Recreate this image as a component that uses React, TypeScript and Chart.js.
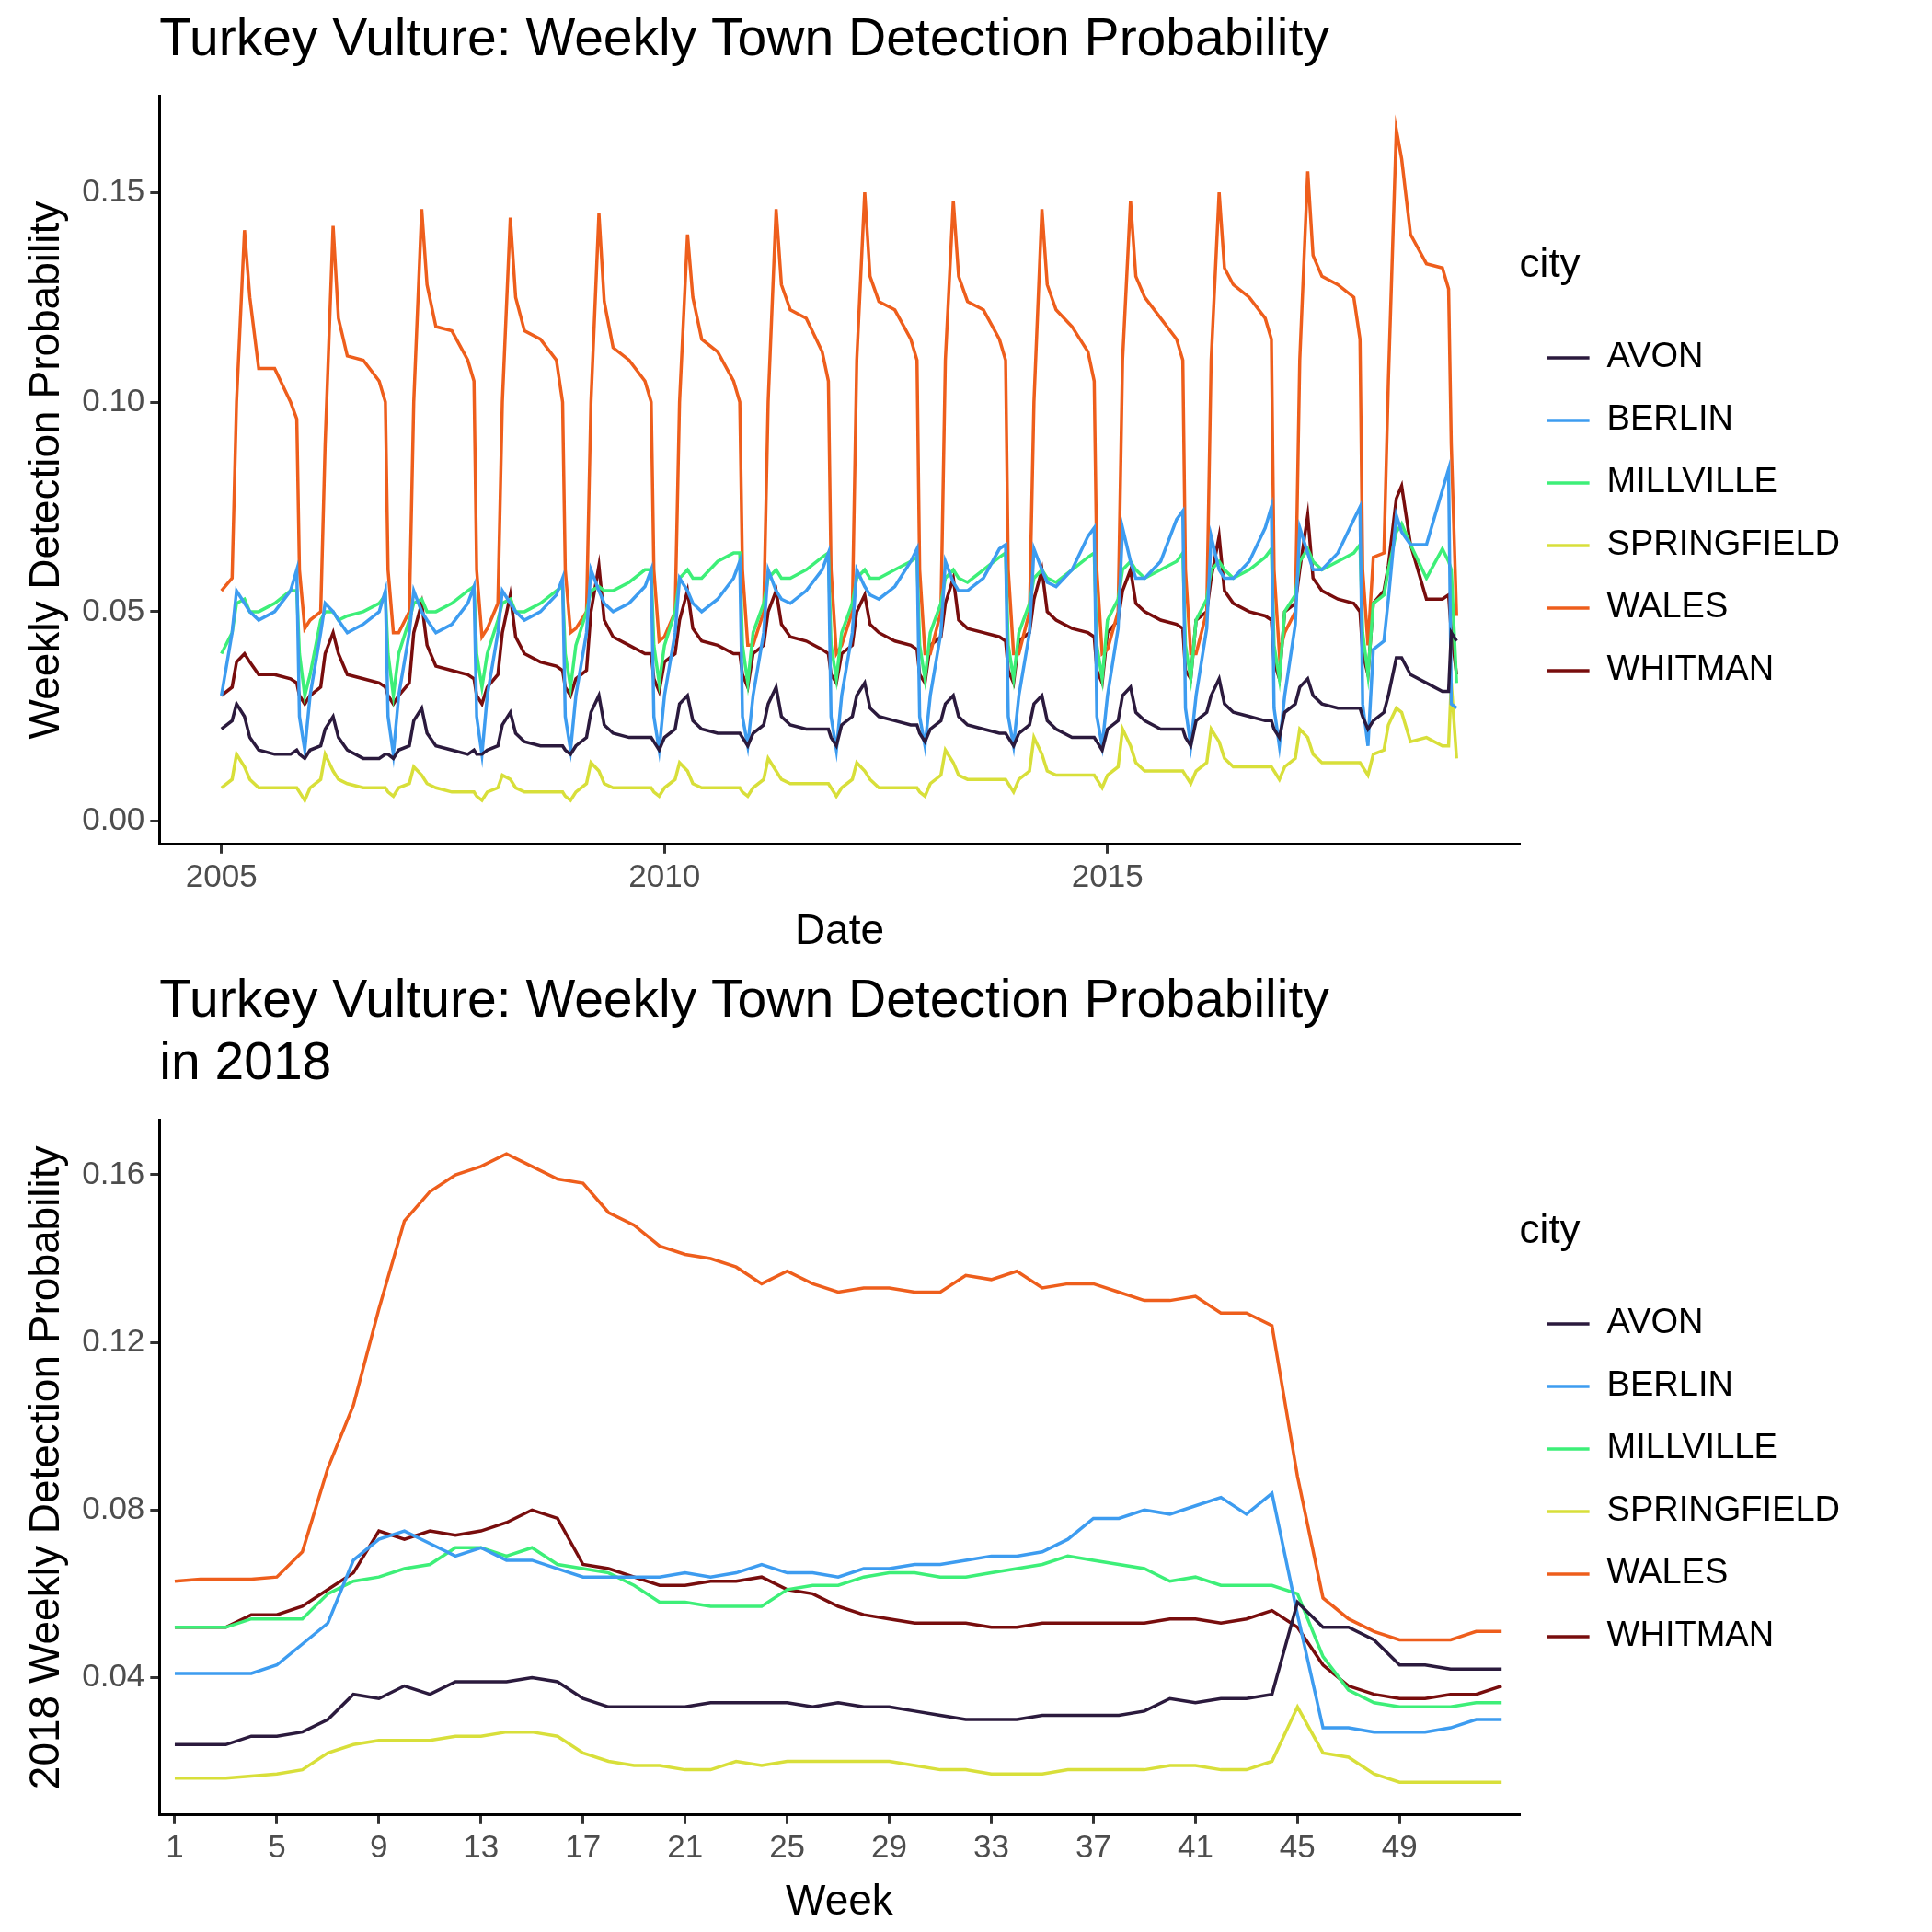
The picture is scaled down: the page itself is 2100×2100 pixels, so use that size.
import { useEffect, useRef } from "react"
import { Chart, registerables, type ChartConfiguration } from "chart.js"

Chart.register(...registerables)

const cities = ["AVON", "BERLIN", "MILLVILLE", "SPRINGFIELD", "WALES", "WHITMAN"]
const colors = ["#2b1a3d", "#3d9cf0", "#3def78", "#d8df3a", "#ee5e1c", "#780d0d"]

const years = [2005, 2006, 2007, 2008, 2009, 2010, 2011, 2012, 2013, 2014, 2015, 2016, 2017, 2018]
// position within the year of each sampled value
const yearFrac = [0, 0.12, 0.17, 0.26, 0.32, 0.42, 0.6, 0.78, 0.85, 0.88, 0.94]

const avonYears = [
  [.022,.024,.028,.025,.02,.017,.016,.016,.017,.016,.015],
  [.017,.018,.022,.025,.02,.017,.015,.015,.016,.016,.015],
  [.017,.018,.024,.027,.021,.018,.017,.016,.017,.016,.016],
  [.017,.018,.023,.026,.021,.019,.018,.018,.018,.017,.016],
  [.018,.02,.026,.03,.023,.021,.02,.02,.02,.019,.017],
  [.02,.022,.028,.03,.024,.022,.021,.021,.021,.02,.018],
  [.021,.023,.028,.032,.025,.023,.022,.022,.022,.02,.018],
  [.023,.025,.03,.033,.027,.025,.024,.023,.023,.021,.019],
  [.022,.024,.028,.03,.025,.023,.022,.021,.021,.02,.018],
  [.021,.023,.028,.03,.024,.022,.02,.02,.02,.019,.017],
  [.022,.024,.03,.032,.026,.024,.022,.022,.022,.02,.018],
  [.024,.026,.03,.034,.028,.026,.025,.024,.024,.022,.02],
  [.026,.028,.032,.034,.03,.028,.027,.027,.027,.025,.022],
  [.024,.026,.03,.039,.039,.035,.033,.031,.031,.045,.043],
]
const berlinYears = [
  [.030,.045,.055,.052,.05,.048,.05,.055,.06,.025,.017],
  [.03,.045,.052,.05,.048,.045,.047,.05,.055,.025,.016],
  [.03,.045,.055,.05,.048,.045,.047,.052,.056,.025,.016],
  [.03,.045,.055,.052,.05,.048,.05,.054,.058,.025,.017],
  [.03,.045,.06,.055,.052,.05,.052,.056,.06,.025,.017],
  [.03,.045,.058,.055,.052,.05,.053,.058,.062,.025,.018],
  [.03,.045,.06,.055,.053,.052,.055,.06,.064,.025,.017],
  [.03,.045,.06,.056,.054,.053,.056,.062,.065,.025,.018],
  [.03,.045,.062,.057,.055,.055,.058,.065,.066,.025,.018],
  [.03,.045,.065,.06,.057,.056,.06,.068,.07,.025,.018],
  [.03,.046,.07,.062,.058,.058,.062,.072,.074,.027,.018],
  [.03,.046,.068,.06,.058,.058,.062,.07,.075,.027,.018],
  [.03,.047,.07,.064,.06,.06,.064,.072,.075,.028,.018],
  [.041,.043,.053,.073,.069,.066,.066,.079,.084,.028,.027],
]
const millvilleYears = [
  [.04,.045,.052,.053,.05,.05,.052,.055,.055,.04,.03],
  [.035,.048,.05,.05,.048,.049,.05,.052,.054,.04,.03],
  [.04,.048,.052,.053,.05,.05,.052,.055,.056,.04,.032],
  [.04,.048,.052,.053,.05,.05,.052,.055,.056,.04,.032],
  [.042,.05,.055,.056,.055,.055,.057,.06,.06,.042,.033],
  [.042,.05,.058,.06,.058,.058,.062,.064,.064,.042,.033],
  [.045,.052,.058,.06,.058,.058,.06,.063,.064,.042,.034],
  [.045,.052,.058,.06,.058,.058,.06,.062,.063,.042,.034],
  [.045,.052,.058,.06,.058,.057,.06,.063,.064,.042,.034],
  [.045,.052,.058,.06,.058,.057,.06,.063,.064,.042,.034],
  [.048,.053,.06,.062,.06,.058,.06,.062,.064,.042,.034],
  [.048,.053,.06,.062,.06,.058,.06,.063,.065,.042,.034],
  [.05,.054,.062,.065,.062,.06,.062,.064,.066,.045,.035],
  [.052,.054,.06,.069,.071,.066,.058,.065,.062,.06,.033],
]
const springfieldYears = [
  [.008,.01,.016,.013,.01,.008,.008,.008,.008,.007,.005],
  [.008,.01,.016,.012,.01,.009,.008,.008,.008,.007,.006],
  [.008,.009,.013,.011,.009,.008,.007,.007,.007,.006,.005],
  [.007,.008,.011,.01,.008,.007,.007,.007,.007,.006,.005],
  [.007,.009,.014,.012,.009,.008,.008,.008,.008,.007,.006],
  [.008,.01,.014,.012,.009,.008,.008,.008,.008,.007,.006],
  [.008,.01,.015,.012,.01,.009,.009,.009,.009,.008,.006],
  [.008,.01,.014,.012,.01,.008,.008,.008,.008,.007,.006],
  [.009,.011,.017,.014,.011,.01,.01,.01,.01,.009,.007],
  [.01,.012,.02,.016,.012,.011,.011,.011,.011,.01,.008],
  [.011,.013,.022,.018,.014,.012,.012,.012,.012,.011,.009],
  [.012,.014,.022,.019,.015,.013,.013,.013,.013,.012,.01],
  [.013,.015,.022,.02,.016,.014,.014,.014,.014,.013,.011],
  [.016,.017,.023,.027,.026,.019,.02,.018,.018,.033,.015],
]
const walesYears = [
  [.055,.058,.10,.141,.125,.108,.108,.10,.096,.06,.046],
  [.048,.05,.09,.142,.12,.111,.11,.105,.10,.06,.045],
  [.045,.05,.10,.146,.128,.118,.117,.11,.105,.06,.044],
  [.046,.052,.10,.144,.125,.117,.115,.11,.10,.06,.045],
  [.046,.05,.10,.145,.124,.113,.11,.105,.10,.06,.043],
  [.044,.05,.10,.14,.125,.115,.112,.105,.10,.06,.042],
  [.042,.05,.10,.146,.128,.122,.12,.112,.105,.06,.04],
  [.042,.05,.11,.15,.13,.124,.122,.115,.11,.06,.04],
  [.04,.05,.11,.148,.13,.124,.122,.115,.11,.06,.04],
  [.04,.05,.10,.146,.128,.122,.118,.112,.105,.06,.04],
  [.041,.05,.11,.148,.13,.125,.12,.115,.11,.06,.04],
  [.04,.05,.11,.15,.132,.128,.125,.12,.115,.06,.04],
  [.045,.05,.11,.155,.135,.13,.128,.125,.115,.06,.042],
  [.063,.064,.105,.165,.158,.14,.133,.132,.127,.09,.049],
]
const whitmanYears = [
  [.03,.032,.038,.04,.038,.035,.035,.034,.033,.03,.028],
  [.03,.032,.04,.045,.04,.035,.034,.033,.032,.03,.028],
  [.03,.033,.045,.052,.042,.037,.036,.035,.034,.03,.028],
  [.032,.035,.045,.054,.044,.04,.038,.037,.036,.032,.03],
  [.034,.036,.05,.061,.048,.044,.042,.04,.04,.034,.031],
  [.038,.04,.048,.055,.046,.043,.042,.04,.04,.035,.032],
  [.04,.042,.05,.055,.047,.044,.043,.041,.04,.035,.033],
  [.04,.042,.05,.054,.047,.045,.043,.042,.041,.035,.033],
  [.042,.044,.052,.058,.048,.046,.045,.044,.043,.036,.033],
  [.043,.045,.053,.06,.05,.048,.046,.045,.044,.036,.033],
  [.045,.048,.055,.06,.052,.05,.048,.047,.046,.036,.034],
  [.048,.05,.058,.068,.055,.052,.05,.049,.048,.038,.034],
  [.05,.052,.06,.073,.058,.055,.053,.052,.05,.04,.035],
  [.052,.055,.061,.077,.08,.066,.053,.053,.054,.045,.035],
]
const allYears = [avonYears, berlinYears, millvilleYears, springfieldYears, walesYears, whitmanYears]

// 2018 weekly values, weeks 1..53
const weeks = Array.from({ length: 53 }, (_, i) => i + 1)
const avon2018 = [.024,.024,.024,.026,.026,.027,.03,.036,.035,.038,.036,.039,.039,.039,.04,.039,.035,.033,.033,.033,.033,.034,.034,.034,.034,.033,.034,.033,.033,.032,.031,.03,.03,.03,.031,.031,.031,.031,.032,.035,.034,.035,.035,.036,.058,.052,.052,.049,.043,.043,.042,.042,.042]
const berlin2018 = [.041,.041,.041,.041,.043,.048,.053,.068,.073,.075,.072,.069,.071,.068,.068,.066,.064,.064,.064,.064,.065,.064,.065,.067,.065,.065,.064,.066,.066,.067,.067,.068,.069,.069,.07,.073,.078,.078,.08,.079,.081,.083,.079,.084,.055,.028,.028,.027,.027,.027,.028,.030,.030]
const millville2018 = [.052,.052,.052,.054,.054,.054,.06,.063,.064,.066,.067,.071,.071,.069,.071,.067,.066,.065,.062,.058,.058,.057,.057,.057,.061,.062,.062,.064,.065,.065,.064,.064,.065,.066,.067,.069,.068,.067,.066,.063,.064,.062,.062,.062,.06,.045,.037,.034,.033,.033,.033,.034,.034]
const springfield2018 = [.016,.016,.016,.0165,.017,.018,.022,.024,.025,.025,.025,.026,.026,.027,.027,.026,.022,.02,.019,.019,.018,.018,.02,.019,.02,.02,.02,.02,.02,.019,.018,.018,.017,.017,.017,.018,.018,.018,.018,.019,.019,.018,.018,.02,.033,.022,.021,.017,.015,.015,.015,.015,.015]
const wales2018 = [.063,.0635,.0635,.0635,.064,.07,.09,.105,.128,.149,.156,.16,.162,.165,.162,.159,.158,.151,.148,.143,.141,.14,.138,.134,.137,.134,.132,.133,.133,.132,.132,.136,.135,.137,.133,.134,.134,.132,.13,.13,.131,.127,.127,.124,.088,.059,.054,.051,.049,.049,.049,.051,.051]
const whitman2018 = [.052,.052,.052,.055,.055,.057,.061,.065,.075,.073,.075,.074,.075,.077,.08,.078,.067,.066,.064,.062,.062,.063,.063,.064,.061,.06,.057,.055,.054,.053,.053,.053,.052,.052,.053,.053,.053,.053,.053,.054,.054,.053,.054,.056,.052,.043,.038,.036,.035,.035,.036,.036,.038]
const all2018 = [avon2018, berlin2018, millville2018, springfield2018, wales2018, whitman2018]

const FONT = "Arial, 'Liberation Sans', sans-serif"

function axisOpts(title: string, min: number, max: number, ticks: number[], fmt: (v: number) => string) {
  return {
    type: "linear" as const,
    min,
    max,
    afterBuildTicks: (axis: any) => {
      axis.ticks = ticks.map((v) => ({ value: v }))
    },
    title: { display: true, text: title, color: "#000", font: { family: FONT, size: 46 } },
    ticks: { color: "#4d4d4d", font: { family: FONT, size: 35 }, callback: (v: any) => fmt(Number(v)), padding: 6 },
    grid: { display: true, drawOnChartArea: false, drawTicks: true, tickLength: 10, color: "#333", lineWidth: 3 },
    border: { display: true, color: "#000", width: 3 },
  }
}

// keeps extra space between the plot and the legend
const legendGap = {
  id: "legendGap",
  beforeInit(chart: any) {
    const origFit = chart.legend.fit
    chart.legend.fit = function () {
      origFit.call(this)
      this.width += 80
    }
  },
}

function makeConfig(datasets: any[], title: string | string[], x: any, y: any): ChartConfiguration {
  return {
    type: "line",
    data: { datasets },
    options: {
      responsive: false,
      animation: false,
      parsing: false,
      layout: { padding: { left: 20, right: 0, top: 0, bottom: 0 } },
      elements: { point: { radius: 0 }, line: { tension: 0 } },
      plugins: {
        title: {
          display: true,
          text: title,
          align: "start",
          fullSize: false,
          color: "#000",
          font: { family: FONT, size: 57, weight: "normal" },
          padding: { top: 10, bottom: 26 },
        },
        legend: {
          position: "right",
          align: "center",
          title: {
            display: true,
            text: "city",
            color: "#000",
            position: "start",
            font: { family: FONT, size: 44 },
            padding: { left: 0, bottom: 20 },
          } as any,
          labels: {
            usePointStyle: true,
            pointStyle: "line",
            pointStyleWidth: 46,
            color: "#000",
            font: { family: FONT, size: 38 },
            padding: 30,
          },
        },
        tooltip: { enabled: false },
      },
      scales: { x, y },
    },
    plugins: [legendGap],
  }
}

function LineChart({ config, height }: { config: ChartConfiguration; height: number }) {
  const ref = useRef<HTMLCanvasElement | null>(null)
  useEffect(() => {
    if (!ref.current) return
    const chart = new Chart(ref.current, config)
    return () => chart.destroy()
  }, [config])
  return <canvas ref={ref} width={2090} height={height} style={{ display: "block" }} />
}

export default function App() {
  useEffect(() => {
    document.body.style.margin = "0"
  }, [])

  const topSets = cities.map((c, k) => ({
    label: c,
    borderColor: colors[k],
    backgroundColor: colors[k],
    borderWidth: 3.5,
    data: years.flatMap((yr, i) => yearFrac.map((f, j) => ({ x: yr + f, y: allYears[k][i][j] }))),
  }))
  const bottomSets = cities.map((c, k) => ({
    label: c,
    borderColor: colors[k],
    backgroundColor: colors[k],
    borderWidth: 3.5,
    data: weeks.map((w, i) => ({ x: w, y: all2018[k][i] })),
  }))

  const topConfig = makeConfig(
    topSets,
    "Turkey Vulture: Weekly Town Detection Probability",
    axisOpts("Date", 2004.3, 2019.65, [2005, 2010, 2015], (v) => String(v)),
    axisOpts("Weekly Detection Probability", -0.0055, 0.173, [0, 0.05, 0.1, 0.15], (v) => v.toFixed(2))
  )
  const bottomConfig = makeConfig(
    bottomSets,
    ["Turkey Vulture: Weekly Town Detection Probability", "in 2018"],
    axisOpts("Week", 0.4, 53.7, [1, 5, 9, 13, 17, 21, 25, 29, 33, 37, 41, 45, 49], (v) => String(v)),
    axisOpts("2018 Weekly Detection Probability", 0.0072, 0.173, [0.04, 0.08, 0.12, 0.16], (v) => v.toFixed(2))
  )

  return (
    <div style={{ width: 2100, background: "#fff" }}>
      <LineChart config={topConfig} height={1045} />
      <LineChart config={bottomConfig} height={1055} />
    </div>
  )
}
